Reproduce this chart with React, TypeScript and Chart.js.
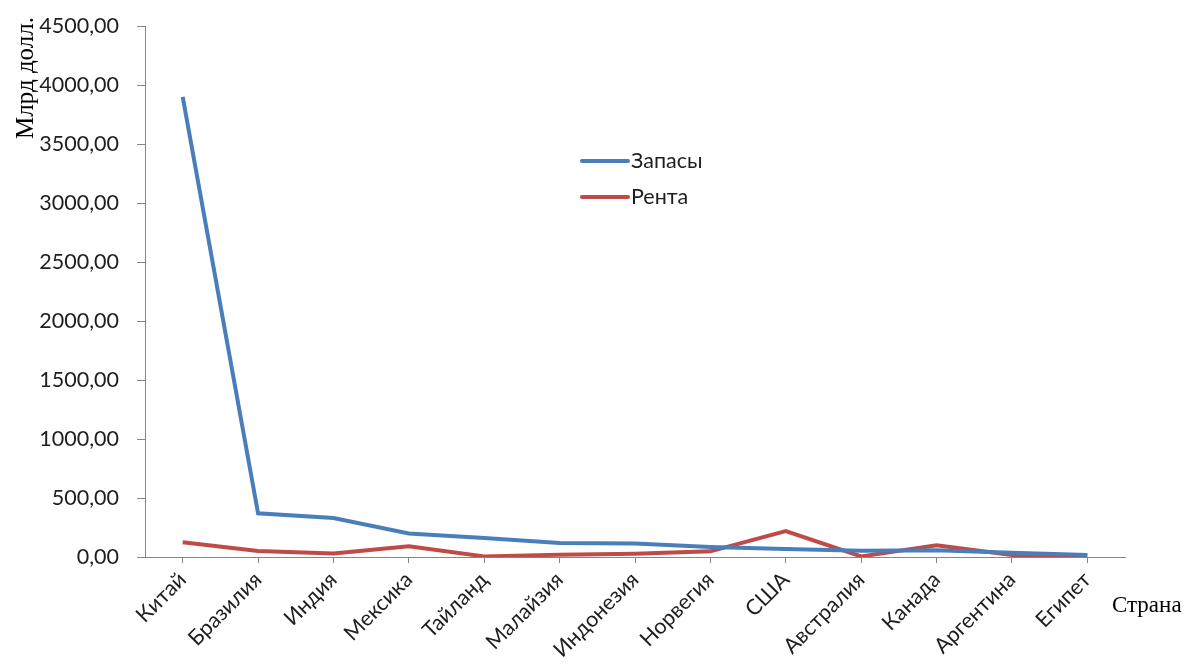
import React, { useEffect, useRef } from "react";
import { Chart, registerables } from "chart.js";

Chart.register(...registerables);

const categories = [
  "Китай", "Бразилия", "Индия", "Мексика", "Тайланд", "Малайзия", "Индонезия",
  "Норвегия", "США", "Австралия", "Канада", "Аргентина", "Египет",
];
const reserves = [3900, 370, 330, 200, 160, 118, 115, 85, 68, 52, 58, 35, 18];
const rent = [125, 50, 30, 90, 5, 20, 28, 48, 220, 5, 100, 18, 15];
const seriesNames = ["Запасы", "Рента"];
const yTitle = "Млрд долл.";
const xTitle = "Страна";

const BLUE = "#4A7EBB";
const RED = "#BE4B48";
const AXIS = "#868686";
const TEXT = "#1e1e1e";
const TICK_FONT = "Lato, 'Open Sans', sans-serif";
const SERIF = "'Liberation Serif', 'DejaVu Serif', serif";
const FS = 21.5;

const extrasPlugin = {
  id: "extras",
  afterDraw(chart: any) {
    const ctx = chart.ctx;
    const area = chart.chartArea;
    ctx.save();
    // y title
    ctx.fillStyle = "#000";
    ctx.font = `25px ${SERIF}`;
    ctx.translate(26, 78);
    ctx.rotate(-Math.PI / 2);
    ctx.textAlign = "center";
    ctx.textBaseline = "middle";
    ctx.fillText(yTitle, 0, 0);
    ctx.restore();

    // x title
    ctx.save();
    ctx.fillStyle = "#000";
    ctx.font = `23px ${SERIF}`;
    ctx.textAlign = "left";
    ctx.textBaseline = "middle";
    ctx.fillText(xTitle, area.right - 13, 606);
    ctx.restore();

    // legend
    ctx.save();
    const ds = chart.data.datasets;
    const lx = 580;
    const ly = [161, 197];
    ds.forEach((d: any, i: number) => {
      ctx.strokeStyle = d.borderColor;
      ctx.lineWidth = 4;
      ctx.lineCap = "round";
      ctx.beginPath();
      ctx.moveTo(lx + 2, ly[i]);
      ctx.lineTo(lx + 48, ly[i]);
      ctx.stroke();
      ctx.fillStyle = TEXT;
      ctx.font = `${FS}px ${TICK_FONT}`;
      ctx.textAlign = "left";
      ctx.textBaseline = "middle";
      ctx.fillText(d.label, lx + 51, ly[i]);
    });
    ctx.restore();
  },
};

export default function App() {
  const ref = useRef<HTMLCanvasElement | null>(null);

  useEffect(() => {
    if (!ref.current) return;
    const chart = new Chart(ref.current, {
      type: "line",
      data: {
        labels: categories,
        datasets: [
          {
            label: seriesNames[0],
            data: reserves,
            borderColor: BLUE,
            backgroundColor: BLUE,
            borderWidth: 4,
            pointRadius: 0,
            tension: 0,
          },
          {
            label: seriesNames[1],
            data: rent,
            borderColor: RED,
            backgroundColor: RED,
            borderWidth: 4,
            pointRadius: 0,
            tension: 0,
          },
        ],
      },
      options: {
        responsive: false,
        animation: false,
        layout: { padding: { top: 26, right: 62, left: 0, bottom: 0 } },
        plugins: {
          legend: { display: false },
          tooltip: { enabled: false },
        },
        scales: {
          x: {
            offset: true,
            grid: {
              offset: false,
              drawOnChartArea: false,
              drawTicks: true,
              tickLength: 6,
              color: AXIS,
            },
            border: { color: AXIS, width: 1 },
            ticks: {
              minRotation: 45,
              maxRotation: 45,
              autoSkip: false,
              padding: 4,
              color: TEXT,
              font: { family: TICK_FONT, size: FS },
            },
            afterFit(scale: any) {
              scale.height = 114;
              scale.paddingLeft = 0;
              scale.paddingRight = 0;
            },
          },
          y: {
            min: 0,
            max: 4500,
            grid: {
              drawOnChartArea: false,
              drawTicks: true,
              tickLength: 8,
              color: AXIS,
            },
            border: { color: AXIS, width: 1 },
            ticks: {
              stepSize: 500,
              padding: 18,
              color: TEXT,
              font: { family: TICK_FONT, size: FS },
              callback: (v: any) => Number(v).toFixed(2).replace(".", ","),
            },
            afterFit(scale: any) {
              scale.width = 145;
              scale.paddingTop = 0;
              scale.paddingBottom = 0;
            },
          },
        },
      },
      plugins: [extrasPlugin],
    });
    return () => chart.destroy();
  }, []);

  return (
    <div style={{ position: "absolute", left: 0, top: 0, width: 1187, height: 671, background: "#fff" }}>
      <canvas ref={ref} width={1187} height={671} />
    </div>
  );
}
